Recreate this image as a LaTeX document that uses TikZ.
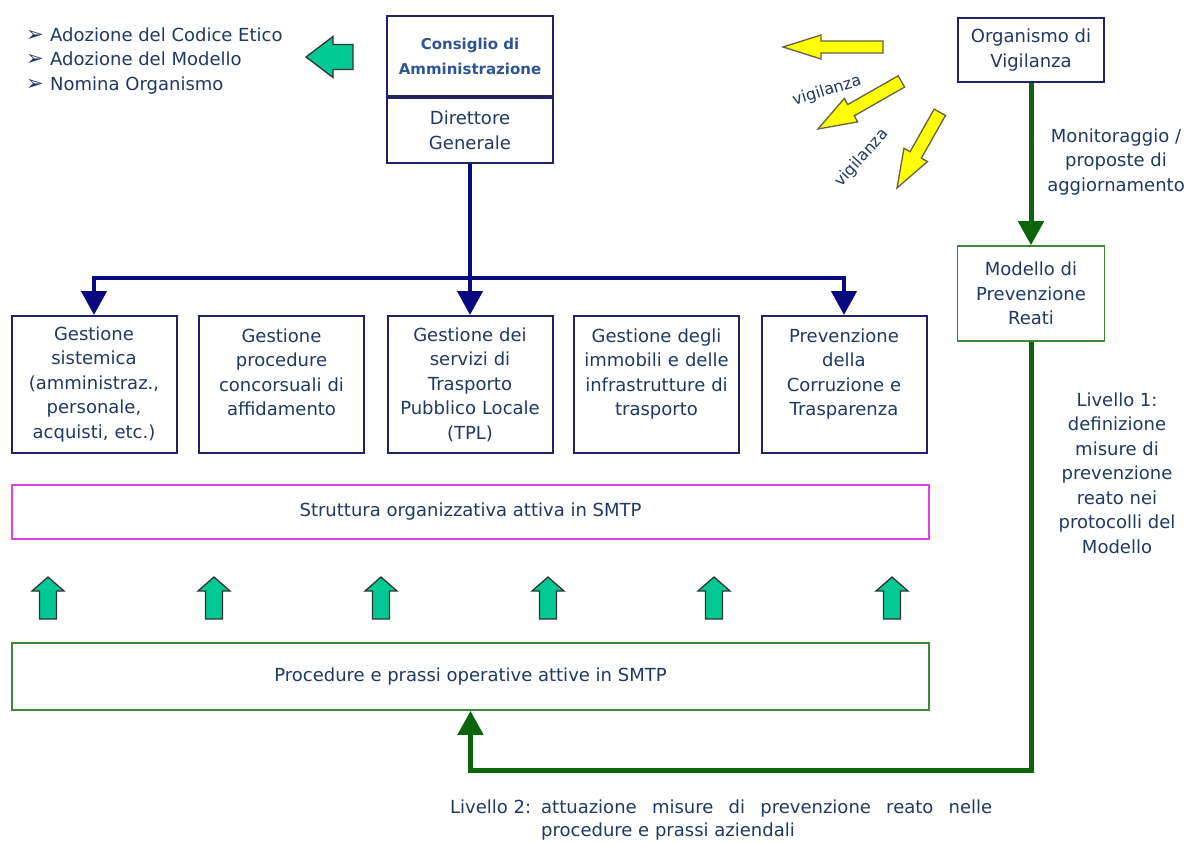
\documentclass[tikz,border=0pt]{standalone}
\usepackage{fontspec}
\setmainfont{DejaVu Sans}
\usetikzlibrary{arrows.meta}

\definecolor{txtblue}{HTML}{1F3864}
\definecolor{cdablue}{HTML}{2F5496}
\definecolor{boxnavy}{HTML}{222266}
\definecolor{busnavy}{HTML}{0A0A80}
\definecolor{dkgreen}{HTML}{0B650B}
\definecolor{boxgreen}{HTML}{3A8A3A}
\definecolor{strmag}{HTML}{E63CE6}
\definecolor{mint}{HTML}{00C993}
\definecolor{yel}{HTML}{FFFF00}

% block arrow: style, tip, angle, length, head length, head width, shaft width
\newcommand{\blockarrow}[7]{%
  \draw[#1, shift={#2}, rotate=#3] (0,0) -- (-#5,#6/2) -- (-#5,#7/2) -- (-#4,#7/2)
    -- (-#4,-#7/2) -- (-#5,-#7/2) -- (-#5,-#6/2) -- cycle;}
\newcommand{\bul}{\makebox[24pt][l]{\fontsize{21}{15}\selectfont ➢}}

\begin{document}
\begin{tikzpicture}[x=1pt, y=-1pt,
    every node/.style={text=txtblue, font=\fontsize{18}{24.5}\selectfont},
    orgbox/.style={draw=boxnavy, line width=2pt, text width=155pt, align=center,
      minimum width=165pt, minimum height=137pt, inner sep=4pt, anchor=north},
    topbox/.style={draw=boxnavy, line width=2pt, align=center, minimum width=166pt},
    grbox/.style={draw=boxgreen, line width=1.6pt, align=center},
    widebox/.style={minimum width=917pt, line width=1.8pt},
    bus/.style={draw=busnavy, line width=4.5pt},
    grline/.style={draw=dkgreen, line width=5pt},
    tip/.tip={Triangle[length=24pt, width=25pt]},
    mintarrow/.style={fill=mint, draw=black!80, line width=1.3pt, line join=miter},
    yelarrow/.style={fill=yel, draw=black!70!yellow, line width=1.3pt, line join=miter},
  ]
  \useasboundingbox (0,0) rectangle (1184,843);

  % Top: board and general manager
  \node[topbox, minimum height=80pt, text=cdablue,
    font=\fontsize{15}{25}\selectfont\bfseries] (cda) at (470,56) {Consiglio di\\Amministrazione};
  \node[topbox, minimum height=65pt, anchor=north] (dg) at (cda.south) {Direttore\\Generale};

  % Board actions
  \node[anchor=west, align=left, inner sep=0] (azioni) at (26,61)
    {\bul Adozione del Codice Etico\\ \bul Adozione del Modello\\ \bul Nomina Organismo};
  \blockarrow{mintarrow}{(306,57)}{180}{47}{27}{41}{25}

  % Functional areas
  \node[orgbox] (g1) at (94,315) {Gestione\\sistemica\\(amministraz.,\\personale,\\acquisti, etc.)};
  \node[orgbox] (g2) at (281.5,315) {Gestione\\procedure\\concorsuali di\\affidamento\\ \mbox{}};
  \node[orgbox] (g3) at (470,315) {Gestione dei\\servizi di\\Trasporto\\Pubblico Locale\\(TPL)};
  \node[orgbox] (g4) at (656.5,315) {Gestione degli\\immobili e delle\\infrastrutture di\\trasporto\\ \mbox{}};
  \node[orgbox] (g5) at (844,315) {Prevenzione\\della\\Corruzione e\\Trasparenza\\ \mbox{}};

  \coordinate (busL) at (94,278);
  \coordinate (busR) at (844,278);
  \draw[bus, {tip}-{tip}] (g1.north) -- (busL) -- (busR) -- (g5.north);
  \draw[bus, -{tip}] (dg.south) -- (g3.north);

  % Structure and procedures
  \node[grbox, widebox, draw=strmag, minimum height=54pt] (strutt) at (470.5,512)
    {Struttura organizzativa attiva in SMTP};
  \node[grbox, widebox, minimum height=67pt] (proc) at (470.5,676.5)
    {Procedure e prassi operative attive in SMTP};
  \foreach \ax in {48,214,381,548,714,892}
    {\blockarrow{mintarrow}{(\ax,577)}{90}{42}{14}{32}{17}}

  % Supervisory body and model
  \node[topbox, minimum width=146pt, minimum height=64pt] (odv) at (1031,50) {Organismo di\\Vigilanza};
  \node[grbox, minimum width=147pt, minimum height=95pt] (mpr) at (1031,293.5) {Modello di\\Prevenzione\\Reati};
  \draw[grline, -{tip}] (odv.south) -- (mpr.north);
  \node[align=center] (monit) at (1116,162) {Monitoraggio /\\proposte di\\aggiornamento};
  \node[align=center] (liv1) at (1117,473)
    {Livello 1:\\definizione\\misure di\\prevenzione\\reato nei\\protocolli del\\Modello};

  \coordinate (loopC) at (1031,770);
  \draw[grline, -{tip}, line join=miter] (mpr.south) -- (loopC) -| (proc.south);
  \node[anchor=north west, inner sep=0, font=\fontsize{18}{23}\selectfont] (liv2) at (450,800)
    {\makebox[91pt][l]{Livello 2:}\parbox[t]{451pt}{attuazione misure di prevenzione reato nelle\linebreak
      procedure e prassi aziendali}};

  % Vigilanza arrows
  \blockarrow{yelarrow}{(783,47)}{180}{100}{38}{24}{12}
  \blockarrow{yelarrow}{(818,129)}{209.7}{96}{38}{27}{13}
  \blockarrow{yelarrow}{(897,188)}{240.5}{87}{38}{27}{13}
  \node[rotate=17, font=\fontsize{16}{16}\selectfont] (vig1) at (827,91) {vigilanza};
  \node[rotate=48, font=\fontsize{16}{16}\selectfont] (vig2) at (862,158) {vigilanza};
\end{tikzpicture}
\end{document}
